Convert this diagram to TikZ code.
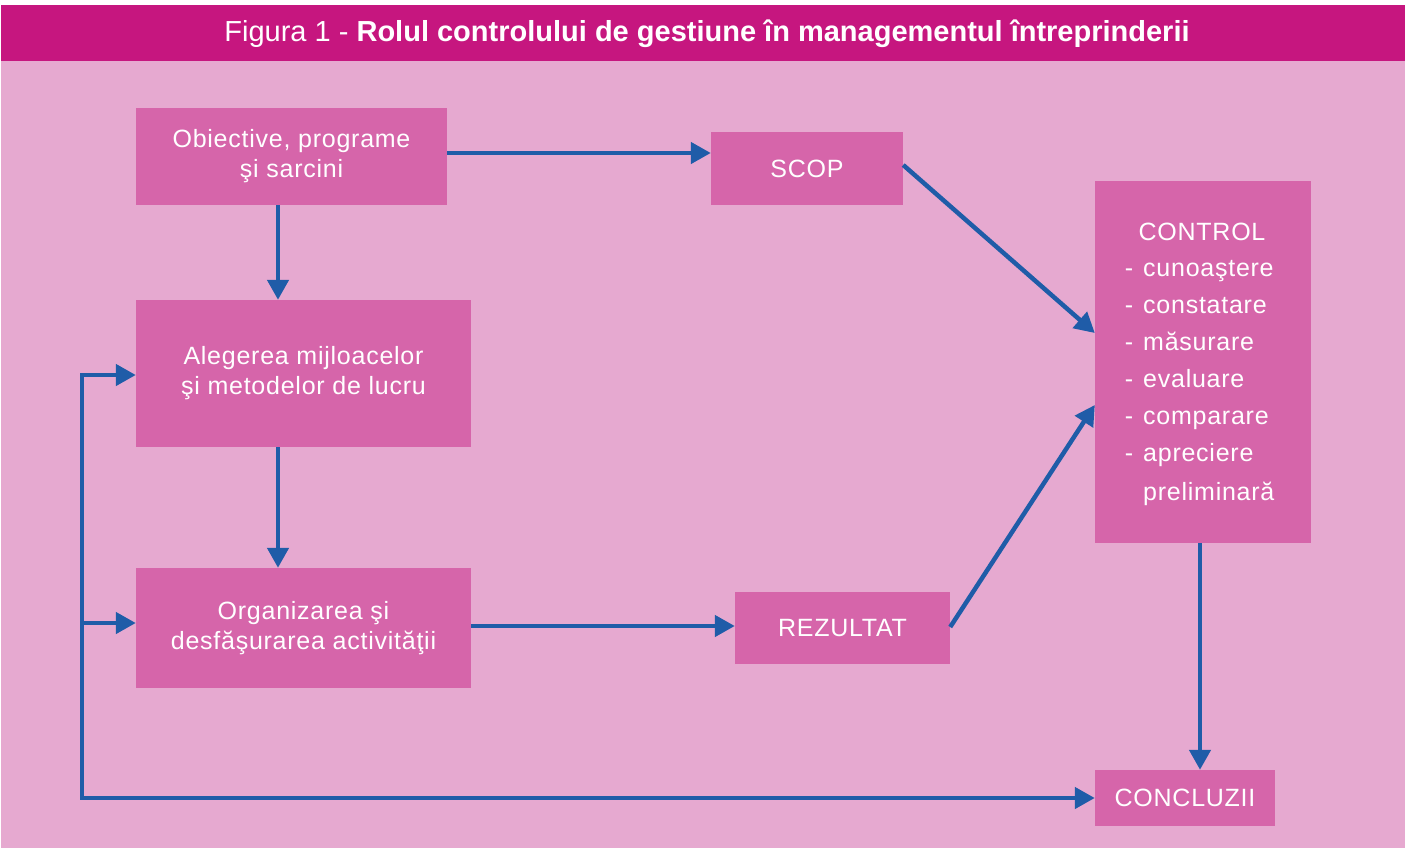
\documentclass[tikz,border=0pt]{standalone}
\usepackage{fontspec}
\setmainfont{Liberation Sans}
\usetikzlibrary{arrows.meta}
\definecolor{bgpink}{HTML}{E6A9D0}
\definecolor{boxpink}{HTML}{D665AA}
\definecolor{barpink}{HTML}{C6167F}
\definecolor{arrblue}{HTML}{1F5CA8}
\tikzset{
  box/.style={fill=boxpink, draw=none, inner sep=0pt, text=white, align=center,
    font=\fontsize{25}{30}\selectfont\addfontfeature{LetterSpace=3}},
  txt/.style={text=white, inner sep=0pt, font=\fontsize{25}{30}\selectfont\addfontfeature{LetterSpace=3}},
  conn/.style={draw=arrblue, line width=4.5pt, -{Triangle[length=20pt,width=21pt]}},
  biconn/.style={draw=arrblue, line width=4.5pt, {Triangle[length=20pt,width=21pt]}-{Triangle[length=20pt,width=21pt]}}
}
\begin{document}
\begin{tikzpicture}[x=1pt,y=-1pt]
\useasboundingbox (0,0) rectangle (1410,851);
\fill[white] (0,0) rectangle (1410,851);
\fill[bgpink] (1,5) rectangle (1405,848);
\fill[barpink] (1,5) rectangle (1405,61);
\node[text=white, inner sep=0pt, anchor=base, font=\fontsize{29}{34}\selectfont] (title) at (707,42)
  {Figura 1 - \textbf{Rolul controlului de gestiune în managementul întreprinderii}};

\node[box, minimum width=311pt, minimum height=97pt] (obj) at (291.5,156.5) {Obiective, programe\\şi sarcini};
\node[box, minimum width=192pt, minimum height=73pt] (scop) at (807,168.5) {SCOP};
\node[box, minimum width=335pt, minimum height=147pt] (alg) at (303.5,373.5) {Alegerea mijloacelor\\şi metodelor de lucru};
\node[box, minimum width=335pt, minimum height=120pt] (org) at (303.5,628) {Organizarea şi\\desfăşurarea activităţii};
\node[box, minimum width=215pt, minimum height=72pt] (rez) at (842.5,628) {REZULTAT};
\node[box, minimum width=216pt, minimum height=362pt] (ctrl) at (1203,362) {};
\node[box, minimum width=180pt, minimum height=56pt] (conc) at (1185,798) {CONCLUZII};

\node[txt, anchor=base] (c0) at (1202,240) {CONTROL};
\foreach \i/\w in {1/cunoaştere,2/constatare,3/măsurare,4/evaluare,5/comparare,6/apreciere}{
  \node[txt, anchor=base] (d\i) at (1129,{239+37*\i}) {-};
  \node[txt, anchor=base west] (t\i) at (1143,{239+37*\i}) {\w};
}
\node[txt, anchor=base west] (t7) at (1143,500) {preliminară};

\draw[conn] (obj.east |- 0,153) -- (scop.west |- 0,153);
\draw[conn] (scop.east |- 0,165) -- (ctrl.west |- 0,333);
\draw[conn] (rez.east |- 0,627) -- (ctrl.west |- 0,405);
\draw[conn] (obj.south -| 278,0) -- (alg.north -| 278,0);
\draw[conn] (alg.south -| 278,0) -- (org.north -| 278,0);
\draw[conn] (org.east |- 0,626) -- (rez.west |- 0,626);
\draw[conn] (ctrl.south -| 1200,0) -- (conc.north -| 1200,0);

\coordinate (fb) at (82,798);
\coordinate (fbtop) at (82,375);
\coordinate (fbmid) at (82,623);
\draw[biconn] (alg.west |- fbtop) -- (fbtop) -- (fb) -- (conc.west |- fb);
\draw[conn] (fbmid) -- (org.west |- fbmid);
\end{tikzpicture}
\end{document}
